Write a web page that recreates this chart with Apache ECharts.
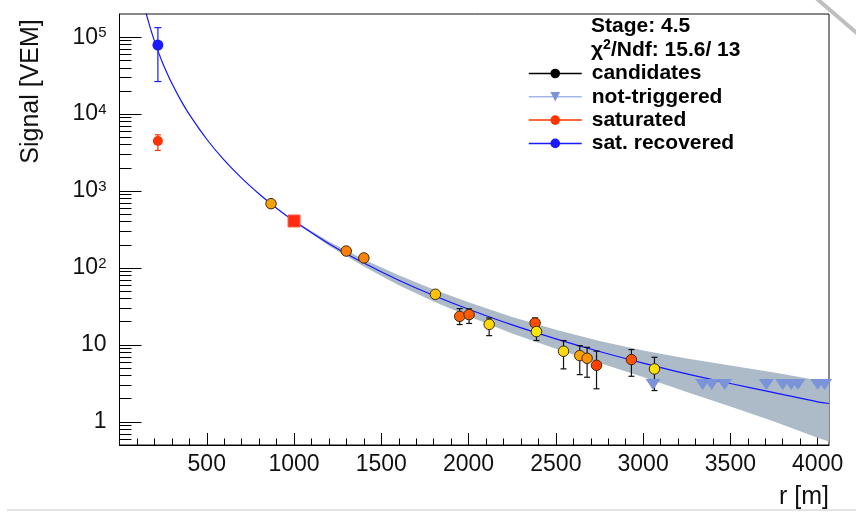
<!DOCTYPE html>
<html><head><meta charset="utf-8">
<script src="https://cdn.jsdelivr.net/npm/echarts@6/dist/echarts.min.js"></script>
<style>html,body{margin:0;padding:0;background:#fff}#c{width:856px;height:520px}</style>
</head><body><div id="c"></div>
<script>
// ---- data ----
const candR  = [868, 1299, 1400, 1810, 1949, 2003, 2118, 2381, 2389, 2544, 2637, 2679, 2733, 2933, 3065];
const candS  = [685, 166, 135, 45.5, 23.5, 24.8, 18.5, 19.3, 14.9, 8.27, 7.26, 6.7, 5.43, 6.44, 4.87];
const candLo = [null, null, null, null, 18.4, 19.0, 13.2, 16.5, 11.4, 4.88, 4.11, 3.8, 2.69, 3.91, 2.55];
const candHi = [null, null, null, null, 29.6, 29.4, 22.4, 22.4, 17.2, 11.4, 9.8, 9.3, 8.3, 8.7, 6.9];
const candColor = ['#f2a20c','#ff8000','#fb8408','#ffc20a','#ff6000','#ff5c00','#ffd80a','#ff4c00','#ffe600','#ffd90b','#ffa300','#ff9200','#ff4000','#ff5200','#ffe000'];

const ntR = [3057, 3341, 3393, 3467, 3706, 3800, 3849, 3887, 4000, 4040];
const ntS = [3.05, 3.05, 3.05, 3.05, 3.05, 3.05, 3.05, 3.05, 3.05, 3.05];

const satR = [220], satS = [4460], satLo = [3370], satHi = [5380];
const recR = [220], recS = [79000], recLo = [26500], recHi = [133000];
const s1000R = [1000], s1000S = [408];

const fitR = [135, 150, 175, 200, 225, 250, 300, 350, 400, 500, 600, 700, 800, 900, 1000, 1200, 1400, 1600, 1800, 2000, 2250, 2500, 2750, 3000, 3250, 3500, 3750, 4000, 4065];
const fitS = [300000, 215000, 135000, 89500, 62000, 44600, 25100, 15300, 9910, 4710, 2520, 1470, 917, 599, 408, 207, 116, 69.4, 43.9, 29.1, 18.2, 12.0, 8.2, 5.8, 4.2, 3.15, 2.4, 1.82, 1.73];

const bandR  = [1000, 1200, 1400, 1600, 1800, 2000, 2250, 2500, 2750, 3000, 3250, 3500, 3750, 4000, 4065];
const bandHi = [414, 220, 128.8, 80.6, 52.5, 35.9, 23.1, 15.7, 11.2, 8.43, 6.67, 5.40, 4.37, 3.46, 3.35];
const bandLo = [402, 195, 104.5, 59.8, 36.7, 23.6, 14.1, 8.9, 5.81, 3.82, 2.45, 1.58, 1.01, 0.62, 0.555];

const xMajor = [500, 1000, 1500, 2000, 2500, 3000, 3500, 4000];
const xMinor = [];
for (let v = 100; v <= 4000; v += 100) if (v % 500 !== 0) xMinor.push(v);
const yMajor = [1, 10, 100, 1000, 10000, 100000];
const yMinor = [];
[0.1, 1, 10, 100, 1000, 10000].forEach(d => { for (let k = 2; k <= 9; k++) { const v = +(k * d).toPrecision(3); if (v > 0.5) yMinor.push(v); } });

// ---- chart ----
const chart = echarts.init(document.getElementById('c'), null, {renderer: 'canvas'});
const FONT = 'Liberation Sans, Arial, Helvetica, sans-serif';

function errBar(color, hw, lw) {
  return function (params, api) {
    const x = api.value(0), lo = api.value(1), hi = api.value(2);
    const a = api.coord([x, hi]), b = api.coord([x, lo]);
    const st = {stroke: color, lineWidth: lw};
    return {type: 'group', children: [
      {type: 'line', shape: {x1: a[0], y1: a[1], x2: b[0], y2: b[1]}, style: st},
      {type: 'line', shape: {x1: a[0] - hw, y1: a[1], x2: a[0] + hw, y2: a[1]}, style: st},
      {type: 'line', shape: {x1: b[0] - hw, y1: b[1], x2: b[0] + hw, y2: b[1]}, style: st}
    ]};
  };
}

const candErr = [];
candR.forEach((r, i) => { if (candLo[i] != null) candErr.push([r, candLo[i], candHi[i]]); });

const downTri = 'path://M0,0 L14,0 L7,10 Z';

const option = {
  backgroundColor: '#ffffff',
  animation: false,
  grid: {left: 119.5, top: 14, width: 709.5, height: 431, show: true, borderColor: '#111', borderWidth: 1, backgroundColor: 'transparent'},
  title: {
    left: 591, top: 15, padding: 0,
    text: 'Stage: 4.5\n{chi|χ}{sup|2}/Ndf: 15.6/ 13',
    textStyle: {fontFamily: FONT, fontSize: 21, fontWeight: 'bold', color: '#000', lineHeight: 23.3,
      rich: {chi: {fontFamily: FONT, fontSize: 21, fontWeight: 'bold', color: '#000'},
             sup: {fontFamily: FONT, fontSize: 14, fontWeight: 'bold', color: '#000', verticalAlign: 'top', lineHeight: 14}}}
  },
  legend: {
    orient: 'vertical', left: 528, top: 63, padding: 0,
    itemWidth: 53, itemHeight: 12, itemGap: 2.3,
    data: ['candidates', 'not-triggered', 'saturated', 'sat. recovered'],
    lineStyle: {width: 1.5, opacity: 1, type: 'solid'},
    textStyle: {fontFamily: FONT, fontSize: 21, fontWeight: 'bold', color: '#000', lineHeight: 21, padding: [0, 0, 0, 5]}
  },
  xAxis: [
    {type: 'value', min: 0, max: 4065, position: 'bottom',
     axisLine: {show: true, lineStyle: {color: '#000', width: 1}},
     axisTick: {show: true, inside: true, length: 12, customValues: xMajor, lineStyle: {color: '#000', width: 1}},
     axisLabel: {show: true, customValues: xMajor, margin: 8, fontFamily: FONT, fontSize: 23, color: '#111',
       formatter: function (v) { return String(Math.round(v)); }},
     splitLine: {show: false}},
    {type: 'value', min: 0, max: 4065, position: 'bottom', offset: 0,
     axisLine: {show: false},
     axisTick: {show: true, inside: true, length: 6.5, customValues: xMinor, lineStyle: {color: '#000', width: 1}},
     axisLabel: {show: false}, splitLine: {show: false}}
  ],
  yAxis: [
    {type: 'log', logBase: 10, min: 0.5, max: 200000, position: 'left',
     axisLine: {show: true, lineStyle: {color: '#000', width: 1}},
     axisTick: {show: true, inside: true, length: 22, customValues: yMajor, lineStyle: {color: '#000', width: 1}},
     axisLabel: {show: true, customValues: yMajor, margin: 13, fontFamily: FONT, fontSize: 23, color: '#111',
       formatter: function (v) {
         if (Math.abs(v - 1) < 1e-9) return '1';
         if (Math.abs(v - 10) < 1e-9) return '10';
         return '10{sup|' + Math.round(Math.log10(v)) + '}';
       },
       rich: {sup: {fontFamily: FONT, fontSize: 15, color: '#111', verticalAlign: 'top', lineHeight: 15}}},
     splitLine: {show: false}},
    {type: 'log', logBase: 10, min: 0.5, max: 200000, position: 'left', offset: 0,
     axisLine: {show: false},
     axisTick: {show: true, inside: true, length: 12, customValues: yMinor, lineStyle: {color: '#000', width: 1}},
     axisLabel: {show: false}, splitLine: {show: false}}
  ],
  graphic: [
    {type: 'text', x: 31, y: 91.5, rotation: Math.PI / 2, style: {text: 'Signal [VEM]', fontFamily: FONT, fontSize: 25, fill: '#111', textAlign: 'center', textVerticalAlign: 'middle'}},
    {type: 'text', x: 829, y: 497.5, style: {text: 'r [m]', fontFamily: FONT, fontSize: 25, fill: '#111', textAlign: 'right', textVerticalAlign: 'middle'}},
    {type: 'line', shape: {x1: 7, y1: 510, x2: 856, y2: 510}, style: {stroke: '#e3e3e3', lineWidth: 2}},
    {type: 'line', shape: {x1: 816, y1: -2, x2: 859, y2: 35}, style: {stroke: '#bfbfbf', lineWidth: 4}}
  ],
  series: [
    {name: 'band', type: 'custom', coordinateSystem: 'cartesian2d', z: 1, clip: true, silent: true,
     data: [[bandR[0], bandHi[0]]],
     renderItem: function (params, api) {
       const pts = [];
       for (let i = 0; i < bandR.length; i++) pts.push(api.coord([bandR[i], bandHi[i]]));
       for (let i = bandR.length - 1; i >= 0; i--) pts.push(api.coord([bandR[i], bandLo[i]]));
       return {type: 'polygon', shape: {points: pts}, style: {fill: '#adbac7'}};
     }},
    {name: 'fit', type: 'line', z: 2, smooth: 0.35, showSymbol: false, silent: true, clip: true,
     data: fitR.map((r, i) => [r, fitS[i]]),
     lineStyle: {color: '#1414ff', width: 1.2}},
    {name: 'candErr', type: 'custom', z: 3, silent: true, data: candErr, encode: {x: 0, y: [1, 2]},
     renderItem: errBar('#111', 3, 1.2)},
    {name: 'satErr', type: 'custom', z: 3, silent: true, data: satR.map((r, i) => [r, satLo[i], satHi[i]]), encode: {x: 0, y: [1, 2]},
     renderItem: errBar('#ff3300', 3, 1.2)},
    {name: 'recErr', type: 'custom', z: 3, silent: true, data: recR.map((r, i) => [r, recLo[i], recHi[i]]), encode: {x: 0, y: [1, 2]},
     renderItem: errBar('#1a1aff', 3.5, 1.2)},
    {name: 'not-triggered', type: 'line', z: 4, symbol: downTri, symbolSize: [15, 11], showAllSymbol: true,
     itemStyle: {color: '#7b93d8'}, lineStyle: {color: '#a3b5ea', width: 0, opacity: 0},
     data: ntR.map((r, i) => [r, ntS[i]])},
    {name: 'S1000', type: 'scatter', z: 5, symbol: 'rect', symbolSize: 12,
     itemStyle: {color: '#ff2a10', borderColor: '#ff5a48', borderWidth: 1, opacity: 1},
     data: s1000R.map((r, i) => [r, s1000S[i]])},
    {name: 'saturated', type: 'line', z: 5, symbol: 'circle', symbolSize: 10, showAllSymbol: true,
     itemStyle: {color: '#ff3300'}, lineStyle: {color: '#ff3300', width: 0, opacity: 0},
     data: satR.map((r, i) => [r, satS[i]])},
    {name: 'sat. recovered', type: 'line', z: 5, symbol: 'circle', symbolSize: 11, showAllSymbol: true,
     itemStyle: {color: '#1a1aff'}, lineStyle: {color: '#1a1aff', width: 0, opacity: 0},
     data: recR.map((r, i) => [r, recS[i]])},
    {name: 'candidates', type: 'line', z: 6, symbol: 'circle', symbolSize: 10.5, showAllSymbol: true,
     itemStyle: {color: '#000'}, lineStyle: {color: '#000', width: 0, opacity: 0},
     data: candR.map((r, i) => ({value: [r, candS[i]], itemStyle: {color: candColor[i], borderColor: '#3b2a10', borderWidth: 1}}))}
  ]
};
chart.setOption(option);
</script>
</body></html>
